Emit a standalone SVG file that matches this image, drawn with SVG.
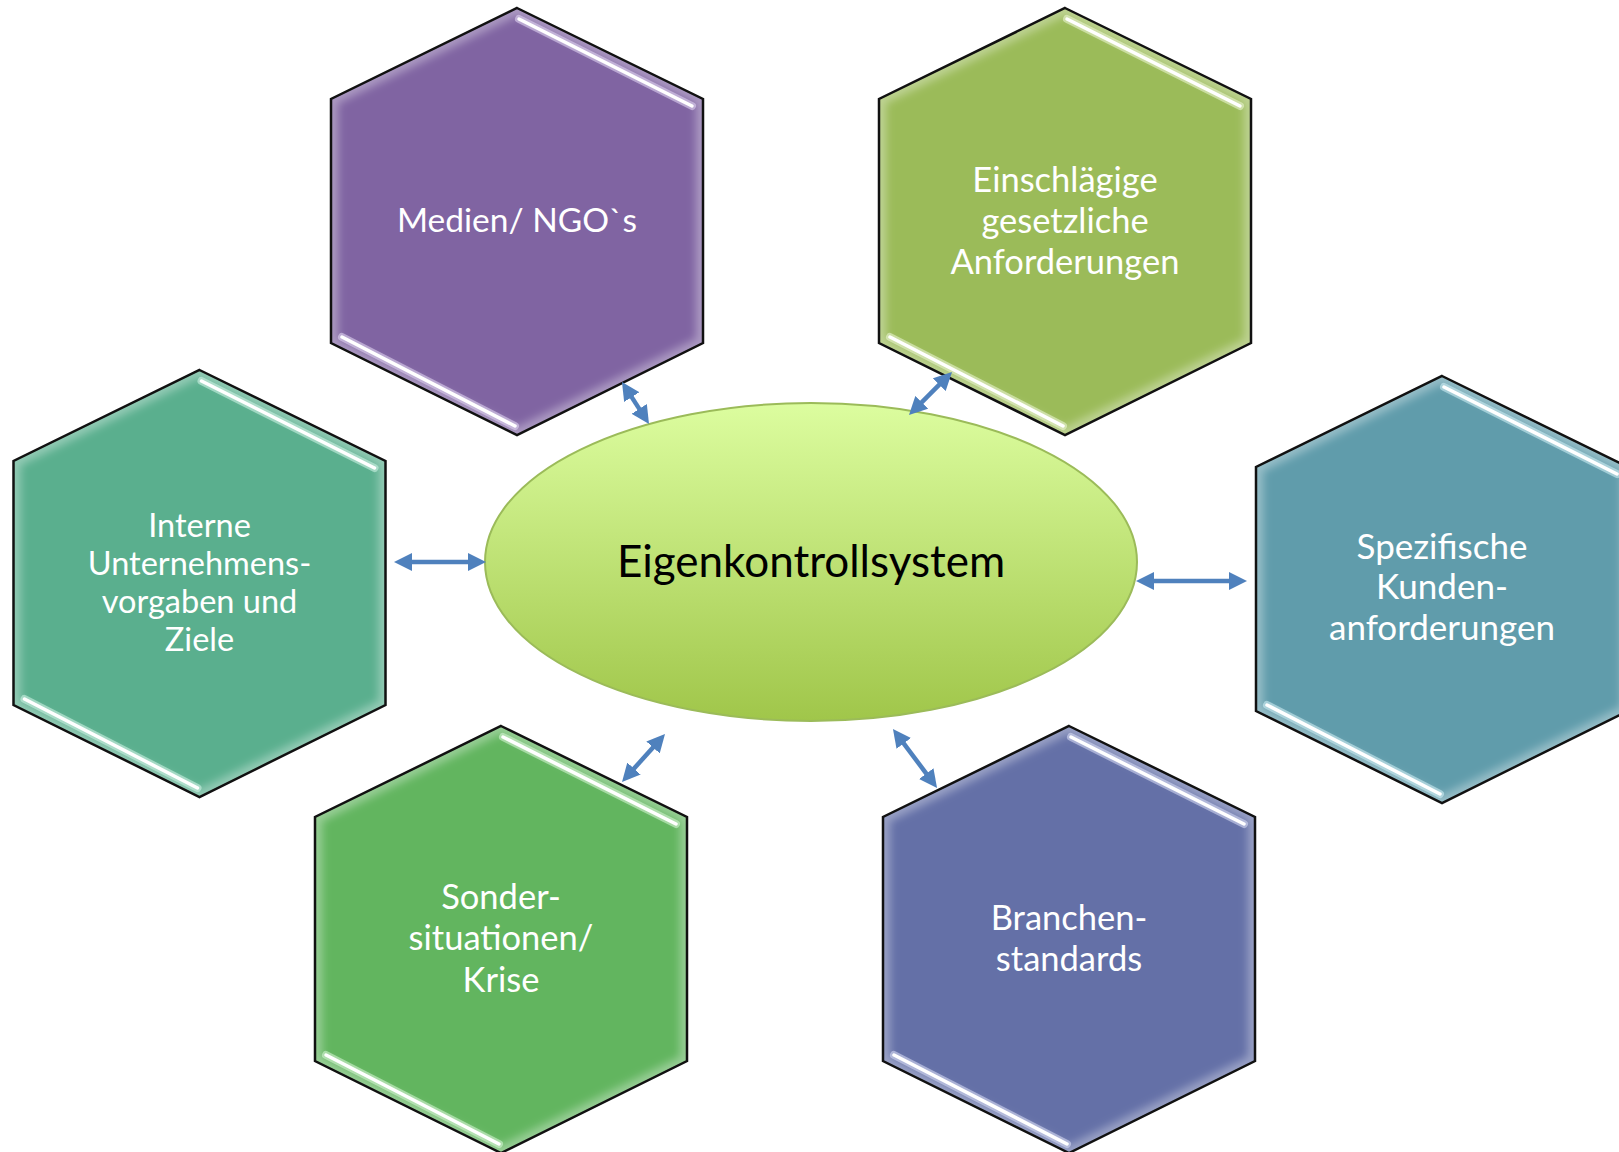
<svg xmlns="http://www.w3.org/2000/svg" xmlns:xlink="http://www.w3.org/1999/xlink" width="1619" height="1152" viewBox="0 0 1619 1152">
<style>
.outline{fill:none;stroke:#111;stroke-width:2.5;stroke-linejoin:miter}
.glow{fill:none;stroke:#fff;stroke-opacity:0.35;stroke-width:14}
.hlo{stroke-width:8;stroke-linecap:round;stroke-opacity:0.55}
.hli{stroke:#fff;stroke-width:3.5;stroke-linecap:round}
.lbl{font-family:Lato,"Open Sans","Liberation Sans",sans-serif;font-size:34.5px;fill:#fff;text-anchor:middle}
.main{font-family:Lato,"Open Sans","Liberation Sans",sans-serif;font-size:44px;fill:#000;text-anchor:middle}
.arr{fill:none;stroke:#4F81BD;stroke-width:4.5;marker-start:url(#ah);marker-end:url(#ah)}
</style>
<defs>
<path id="hex" d="M0,0 L186,91 L186,335 L0,427 L-186,335 L-186,91 Z"/>
<clipPath id="hexclip"><use xlink:href="#hex" href="#hex"/></clipPath>
<filter id="blur4" x="-20%" y="-20%" width="140%" height="140%"><feGaussianBlur stdDeviation="4"/></filter>
<linearGradient id="ellG" x1="0" y1="0" x2="0" y2="1">
<stop offset="0" stop-color="#DCFD9F"/>
<stop offset="1" stop-color="#A0C64A"/>
</linearGradient>
<marker id="ah" viewBox="0 0 10 10" refX="3" refY="5" markerWidth="4" markerHeight="4" orient="auto-start-reverse" markerUnits="strokeWidth">
<path d="M0,0 L10,5 L0,10 Z" fill="#4F81BD"/>
</marker>
</defs>

<g id="node-center">
<ellipse cx="811" cy="562" rx="326" ry="159" fill="url(#ellG)" stroke="#9BBB59" stroke-width="2"/>
<text class="main" x="811" y="577">Eigenkontrollsystem</text>
</g>

<g id="node-medien" transform="translate(517,8)">
<use href="#hex" fill="#8064A2"/>
<g clip-path="url(#hexclip)"><use href="#hex" class="glow" filter="url(#blur4)"/></g>
<use href="#hex" class="outline"/>
<line class="hlo" stroke="#E6DAF5" x1="2" y1="11" x2="175" y2="98"/>
<line class="hli" x1="2" y1="11" x2="175" y2="98"/>
<line class="hlo" stroke="#E6DAF5" x1="-175" y1="329" x2="-2" y2="418"/>
<line class="hli" x1="-175" y1="329" x2="-2" y2="418"/>
<text class="lbl" x="0" y="224" style="font-size:33.5px">Medien/ NGO`s</text>
</g>

<g id="node-gesetz" transform="translate(1065,8)">
<use href="#hex" fill="#9BBB59"/>
<g clip-path="url(#hexclip)"><use href="#hex" class="glow" filter="url(#blur4)"/></g>
<use href="#hex" class="outline"/>
<line class="hlo" stroke="#EEF8D8" x1="2" y1="11" x2="175" y2="98"/>
<line class="hli" x1="2" y1="11" x2="175" y2="98"/>
<line class="hlo" stroke="#EEF8D8" x1="-175" y1="329" x2="-2" y2="418"/>
<line class="hli" x1="-175" y1="329" x2="-2" y2="418"/>
<text class="lbl" x="0" y="184">Einschlägige</text>
<text class="lbl" x="0" y="225">gesetzliche</text>
<text class="lbl" x="0" y="266">Anforderungen</text>
</g>

<g id="node-intern" transform="translate(199.5,370)">
<use href="#hex" fill="#5AAF8E"/>
<g clip-path="url(#hexclip)"><use href="#hex" class="glow" filter="url(#blur4)"/></g>
<use href="#hex" class="outline"/>
<line class="hlo" stroke="#D5F5EA" x1="2" y1="11" x2="175" y2="98"/>
<line class="hli" x1="2" y1="11" x2="175" y2="98"/>
<line class="hlo" stroke="#D5F5EA" x1="-175" y1="329" x2="-2" y2="418"/>
<line class="hli" x1="-175" y1="329" x2="-2" y2="418"/>
<g style="font-size:32.5px">
<text class="lbl" x="0" y="167" style="font-size:32.5px">Interne</text>
<text class="lbl" x="0" y="205" style="font-size:32.5px">Unternehmens-</text>
<text class="lbl" x="0" y="243" style="font-size:32.5px">vorgaben und</text>
<text class="lbl" x="0" y="281" style="font-size:32.5px">Ziele</text>
</g>
</g>

<g id="node-kunden" transform="translate(1442,376)">
<use href="#hex" fill="#609CAB"/>
<g clip-path="url(#hexclip)"><use href="#hex" class="glow" filter="url(#blur4)"/></g>
<use href="#hex" class="outline"/>
<line class="hlo" stroke="#D6F2F8" x1="2" y1="11" x2="175" y2="98"/>
<line class="hli" x1="2" y1="11" x2="175" y2="98"/>
<line class="hlo" stroke="#D6F2F8" x1="-175" y1="329" x2="-2" y2="418"/>
<line class="hli" x1="-175" y1="329" x2="-2" y2="418"/>
<text class="lbl" x="0" y="183" style="font-size:35px">Spezifische</text>
<text class="lbl" x="0" y="223" style="font-size:35px">Kunden-</text>
<text class="lbl" x="0" y="264" style="font-size:35px">anforderungen</text>
</g>

<g id="node-sonder" transform="translate(501,726)">
<use href="#hex" fill="#62B55F"/>
<g clip-path="url(#hexclip)"><use href="#hex" class="glow" filter="url(#blur4)"/></g>
<use href="#hex" class="outline"/>
<line class="hlo" stroke="#DAF7D8" x1="2" y1="11" x2="175" y2="98"/>
<line class="hli" x1="2" y1="11" x2="175" y2="98"/>
<line class="hlo" stroke="#DAF7D8" x1="-175" y1="329" x2="-2" y2="418"/>
<line class="hli" x1="-175" y1="329" x2="-2" y2="418"/>
<text class="lbl" x="0" y="183">Sonder-</text>
<text class="lbl" x="0" y="224">situationen/</text>
<text class="lbl" x="0" y="266">Krise</text>
</g>

<g id="node-branche" transform="translate(1069,726)">
<use href="#hex" fill="#6470A7"/>
<g clip-path="url(#hexclip)"><use href="#hex" class="glow" filter="url(#blur4)"/></g>
<use href="#hex" class="outline"/>
<line class="hlo" stroke="#DCE0F8" x1="2" y1="11" x2="175" y2="98"/>
<line class="hli" x1="2" y1="11" x2="175" y2="98"/>
<line class="hlo" stroke="#DCE0F8" x1="-175" y1="329" x2="-2" y2="418"/>
<line class="hli" x1="-175" y1="329" x2="-2" y2="418"/>
<text class="lbl" x="0" y="204">Branchen-</text>
<text class="lbl" x="0" y="245">standards</text>
</g>

<g id="connectors">
<line class="arr" x1="628.8" y1="392.6" x2="642.2" y2="413.4"/>
<line class="arr" x1="943.1" y1="380.9" x2="917.9" y2="406.1"/>
<line class="arr" x1="406.6" y1="562" x2="473.4" y2="562"/>
<line class="arr" x1="1148.6" y1="581" x2="1234.4" y2="581"/>
<line class="arr" x1="630.4" y1="772.6" x2="656.6" y2="743.4"/>
<line class="arr" x1="900.5" y1="739.1" x2="929.5" y2="777.9"/>
</g>
</svg>
